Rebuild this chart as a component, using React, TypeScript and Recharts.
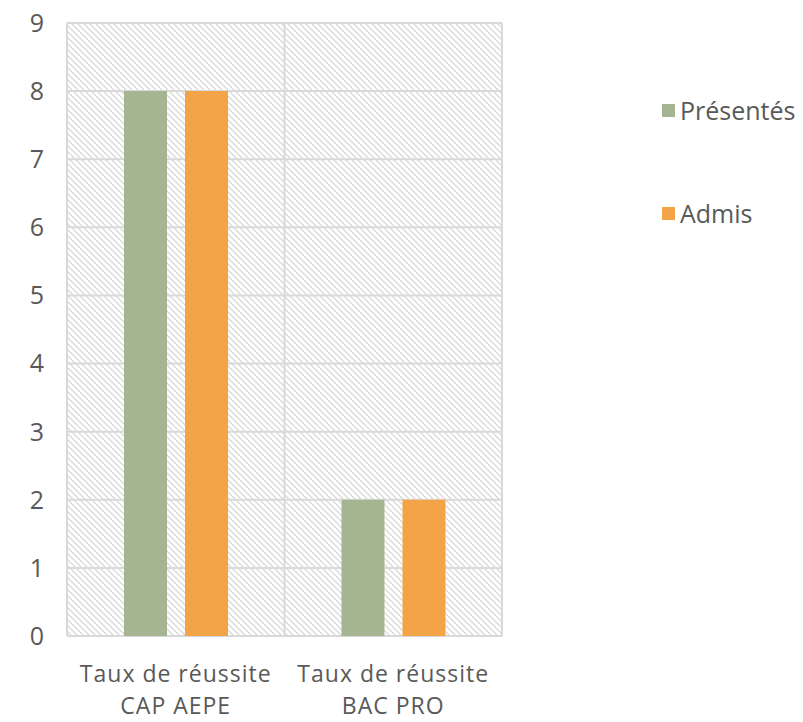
import React from "react";
import { BarChart, Bar, XAxis, YAxis, CartesianGrid, Legend } from "recharts";

const categories = ["Taux de réussite|CAP AEPE", "Taux de réussite|BAC PRO"];
const presentes = [8, 2];
const admis = [8, 2];
const yTicks = [0, 1, 2, 3, 4, 5, 6, 7, 8, 9];
const seriesOrder = ["Présentés", "Admis"];

const data = categories.map((name, i) => ({
  name,
  presentes: presentes[i],
  admis: admis[i],
}));

const FONT = "'Open Sans', sans-serif";
const TEXT = "#595959";
const GRID = "#d9d9d9";
const FS = 25;

// x labels: two lines, slightly smaller font but spaced out like the original
function CategoryTick(props: any) {
  const { x, y, payload } = props;
  const lines = String(payload.value).split("|");
  return (
    <text
      x={x}
      y={y}
      textAnchor="middle"
      fill={TEXT}
      fontSize={23}
      letterSpacing={1}
      fontFamily={FONT}
    >
      {lines.map((l, i) => (
        <tspan key={i} x={x} dy={i === 0 ? 38 : 32}>
          {l}
        </tspan>
      ))}
    </text>
  );
}

function LegendBox(props: any) {
  const items = [...(props.payload || [])].sort(
    (a: any, b: any) => seriesOrder.indexOf(a.value) - seriesOrder.indexOf(b.value)
  );
  return (
    <div style={{ fontFamily: FONT, fontSize: FS, color: TEXT }}>
      {items.map((p: any, i: number) => (
        <div
          key={i}
          style={{ display: "flex", alignItems: "center", height: 30, marginBottom: i === 0 ? 73 : 0 }}
        >
          <span
            style={{ width: 13, height: 13, background: p.color, display: "inline-block", marginRight: 5 }}
          />
          <span>{p.value}</span>
        </div>
      ))}
    </div>
  );
}

export default function App() {
  return (
    <div style={{ position: "absolute", left: 0, top: 0, width: 803, height: 722, background: "#fff" }}>
      <svg width={0} height={0} style={{ position: "absolute" }}>
        <defs>
          <pattern id="hatch" patternUnits="userSpaceOnUse" width={6} height={6}>
            <rect width={6} height={6} fill="#ffffff" />
            <path d="M0,0 L6,6 M-1,5 L1,7 M5,-1 L7,1" stroke="#d4d4d4" strokeWidth={1.2} />
          </pattern>
        </defs>
      </svg>
      <BarChart
        width={803}
        height={722}
        data={data}
        margin={{ top: 23, right: 301, bottom: 6, left: 7 }}
        barCategoryGap={57}
        barGap={18}
      >
        <CartesianGrid
          stroke={GRID}
          strokeWidth={2}
          fill="url(#hatch)"
          fillOpacity={1}
          verticalCoordinatesGenerator={({ offset }: any) => [
            offset.left,
            offset.left + offset.width / 2,
            offset.left + offset.width,
          ]}
        />
        <XAxis
          dataKey="name"
          axisLine={false}
          tickLine={false}
          height={80}
          interval={0}
          tick={<CategoryTick />}
        />
        <YAxis
          domain={[0, 9]}
          ticks={yTicks}
          width={60}
          axisLine={false}
          tickLine={false}
          tickMargin={17}
          tick={{ fill: TEXT, fontSize: FS, fontFamily: FONT }}
        />
        <Legend
          layout="horizontal"
          verticalAlign="middle"
          align="center"
          content={<LegendBox />}
          wrapperStyle={{ position: "absolute", left: 662, top: 95, width: 141 }}
        />
        <Bar dataKey="presentes" name="Présentés" fill="#a5b592" isAnimationActive={false} />
        <Bar dataKey="admis" name="Admis" fill="#f3a447" isAnimationActive={false} />
      </BarChart>
    </div>
  );
}
